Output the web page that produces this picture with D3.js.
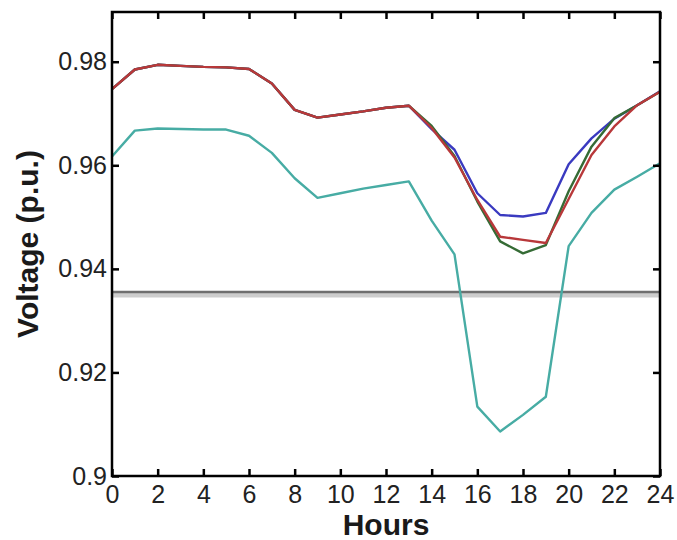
<!DOCTYPE html>
<html>
<head>
<meta charset="utf-8">
<title>Voltage profile</title>
<script src="https://d3js.org/d3.v7.min.js"></script>
<style>
  body { margin: 0; background: #fff; }
  svg { display: block; }
  text { font-family: "Liberation Sans", Arial, sans-serif; }
  .tick text { font-size: 25px; fill: #222; }
  .label { font-size: 30px; font-weight: bold; fill: #1a1a1a; }
</style>
</head>
<body>
<div id="chart"></div>
<script>
// data
const hours = [0, 1, 2, 3, 4, 5, 6, 7, 8, 9, 10, 11, 12, 13, 14, 15, 16, 17, 18, 19, 20, 21, 22, 23, 24];
const redV = [0.9747, 0.9785, 0.9794, 0.9792, 0.9790, 0.9789, 0.9786, 0.9758, 0.9707, 0.9692, 0.9698, 0.9704, 0.9711, 0.9715,
              0.9672, 0.9615, 0.9533, 0.9462, 0.9456, 0.9450, 0.9535, 0.9620, 0.9675, 0.9716, 0.9742];
const greenV = [0.9747, 0.9785, 0.9794, 0.9792, 0.9790, 0.9789, 0.9786, 0.9758, 0.9707, 0.9692, 0.9698, 0.9704, 0.9711, 0.9715,
                0.9676, 0.9618, 0.9530, 0.9453, 0.9430, 0.9446, 0.9550, 0.9636, 0.9691, 0.9716, 0.9742];
const blueV = [0.9747, 0.9785, 0.9794, 0.9792, 0.9790, 0.9789, 0.9786, 0.9758, 0.9707, 0.9692, 0.9698, 0.9704, 0.9711, 0.9715,
               0.9670, 0.9630, 0.9546, 0.9504, 0.9501, 0.9508, 0.9602, 0.9652, 0.9690, 0.9716, 0.9743];
const tealV = [0.9617, 0.9667, 0.9671, 0.9670, 0.9669, 0.9669, 0.9657, 0.9624, 0.9575, 0.9537, 0.9546, 0.9555, 0.9562, 0.9569,
               0.9493, 0.9428, 0.9134, 0.9086, 0.9118, 0.9153, 0.9444, 0.9508, 0.9553, 0.9578, 0.9604];
const limitV = 0.9355;
const xTicks = [0, 2, 4, 6, 8, 10, 12, 14, 16, 18, 20, 22, 24];
const yTicks = [0.9, 0.92, 0.94, 0.96, 0.98];

const w = 677, h = 540;
const m = {left: 112, top: 12, right: 17, bottom: 64};

const svg = d3.select("#chart").append("svg")
    .attr("width", w)
    .attr("height", h);

const x = d3.scaleLinear().domain([0, 24]).range([m.left, w - m.right]);
const y = d3.scaleLinear().domain([0.9, 0.9896]).range([h - m.bottom, m.top]);

// limit line (dark line with a light grey shadow under it)
svg.append("line")
    .attr("x1", x(0)).attr("x2", x(24))
    .attr("y1", y(limitV) + 3.5).attr("y2", y(limitV) + 3.5)
    .attr("stroke", "#cdcdcd").attr("stroke-width", 3.5);
svg.append("line")
    .attr("x1", x(0)).attr("x2", x(24))
    .attr("y1", y(limitV)).attr("y2", y(limitV))
    .attr("stroke", "#6f6f6f").attr("stroke-width", 2.6);

//Lines
const line = d3.line().x((d, i) => x(hours[i])).y(d => y(d));
const series = [
    {v: tealV, c: "#47aca4"},
    {v: blueV, c: "#3a3ac0"},
    {v: greenV, c: "#356b35"},
    {v: redV, c: "#b8383a"}
];
svg.selectAll("path.series")
    .data(series)
    .enter()
    .append("path")
    .attr("class", "series")
    .attr("d", d => line(d.v))
    .attr("fill", "none")
    .attr("stroke", d => d.c)
    .attr("stroke-width", 2.4)
    .attr("stroke-linejoin", "round");

//Axes (ticks point inward)
const xAxis = d3.axisBottom(x).tickValues(xTicks).tickFormat(d => d)
    .tickSizeInner(-7).tickSizeOuter(0).tickPadding(9);
svg.append("g").attr("transform", "translate(0," + (h - m.bottom) + ")").call(xAxis);

const yAxis = d3.axisLeft(y).tickValues(yTicks).tickFormat(d => String(d))
    .tickSizeInner(-7).tickSizeOuter(0).tickPadding(5);
svg.append("g").attr("transform", "translate(" + m.left + ",0)").call(yAxis);

svg.append("g").attr("transform", "translate(0," + m.top + ")")
    .call(d3.axisTop(x).tickValues(xTicks).tickFormat("").tickSizeInner(-7).tickSizeOuter(0));
svg.append("g").attr("transform", "translate(" + (w - m.right) + ",0)")
    .call(d3.axisRight(y).tickValues(yTicks).tickFormat("").tickSizeInner(-7).tickSizeOuter(0));

svg.selectAll(".domain").remove();
svg.selectAll(".tick line").attr("stroke", "#000").attr("stroke-width", 2.5);

// frame
svg.append("rect")
    .attr("x", m.left).attr("y", m.top)
    .attr("width", w - m.left - m.right)
    .attr("height", h - m.top - m.bottom)
    .attr("fill", "none")
    .attr("stroke", "#000")
    .attr("stroke-width", 2.5);

//Labels
svg.append("text")
    .attr("class", "label")
    .attr("text-anchor", "middle")
    .attr("x", (x(0) + x(24)) / 2)
    .attr("y", 535)
    .text("Hours");

svg.append("text")
    .attr("class", "label")
    .attr("text-anchor", "middle")
    .attr("transform", "translate(38," + ((y(0.9) + y(0.9896)) / 2) + ") rotate(-90)")
    .text("Voltage (p.u.)");
</script>
</body>
</html>
